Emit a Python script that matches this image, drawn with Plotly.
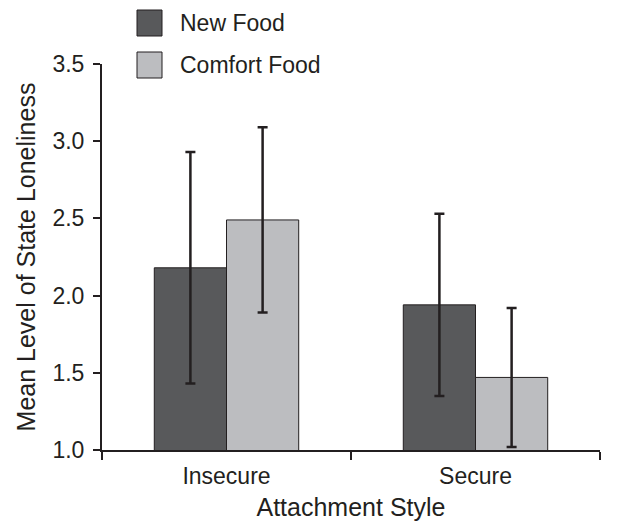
import plotly.graph_objects as go

categories = ["Insecure", "Secure"]
series_names = ["New Food", "Comfort Food"]
new_food = [2.18, 1.94]
new_food_err = [0.75, 0.59]
comfort_food = [2.49, 1.47]
comfort_food_err = [0.60, 0.45]
y_ticks = [1.0, 1.5, 2.0, 2.5, 3.0, 3.5]

colors = ["#58595b", "#bcbdc0"]
outline = "#231f20"
font_family = "Liberation Sans, Arial, sans-serif"

fig = go.Figure()
for name, vals, errs, col in [
    (series_names[0], new_food, new_food_err, colors[0]),
    (series_names[1], comfort_food, comfort_food_err, colors[1]),
]:
    fig.add_trace(go.Bar(
        x=categories, y=vals, name=name,
        marker=dict(color=col, line=dict(color=outline, width=1)),
        error_y=dict(type="data", array=errs, visible=True,
                     color=outline, thickness=2.5, width=5),
        showlegend=False,
    ))

# legend drawn as squares + text (paper coords; plot area is 498 x 386 px)
pw, ph = 498.0, 386.0
for i, (name, col) in enumerate(zip(series_names, colors)):
    top_px = 10 + i * 42
    fig.add_shape(type="rect", xref="paper", yref="paper",
                  x0=(137 - 102) / pw, x1=(162 - 102) / pw,
                  y0=1.0 + (64 - top_px) / ph, y1=1.0 + (64 - top_px - 26) / ph,
                  fillcolor=col, line=dict(color=outline, width=1))
    fig.add_annotation(xref="paper", yref="paper", x=(178 - 102) / pw,
                       y=1.0 + (64 - top_px - 13) / ph,
                       text=name, showarrow=False, xanchor="left", yanchor="middle",
                       font=dict(size=23, color="#231f20", family=font_family))

fig.update_layout(
    width=627, height=521,
    margin=dict(l=102, r=27, t=64, b=71, autoexpand=False),
    plot_bgcolor="white", paper_bgcolor="white",
    barmode="group", bargap=0.42, bargroupgap=0,
    font=dict(family=font_family, color="#231f20", size=22),
    xaxis=dict(
        range=[-0.5, 1.5], tickson="boundaries", ticks="outside", ticklen=8,
        tickwidth=2, tickcolor=outline, automargin=False, ticklabelstandoff=4,
        showline=True, linecolor=outline, linewidth=2,
        title=dict(text="Attachment Style", font=dict(size=25), standoff=11),
        tickfont=dict(size=23), showgrid=False, zeroline=False,
    ),
    yaxis=dict(
        range=[1.0, 3.5], tickvals=y_ticks, ticktext=[f"{v:.1f}" for v in y_ticks],
        ticks="outside", ticklen=7, tickwidth=2, tickcolor=outline, automargin=False,
        ticklabelstandoff=4,
        showline=True, linecolor=outline, linewidth=2,
        title=dict(text="Mean Level of State Loneliness", font=dict(size=25), standoff=10),
        tickfont=dict(size=23), showgrid=False, zeroline=False,
    ),
)

fig.write_html("out.html", config={"displayModeBar": False},
               post_script="document.body.style.margin='0';")
